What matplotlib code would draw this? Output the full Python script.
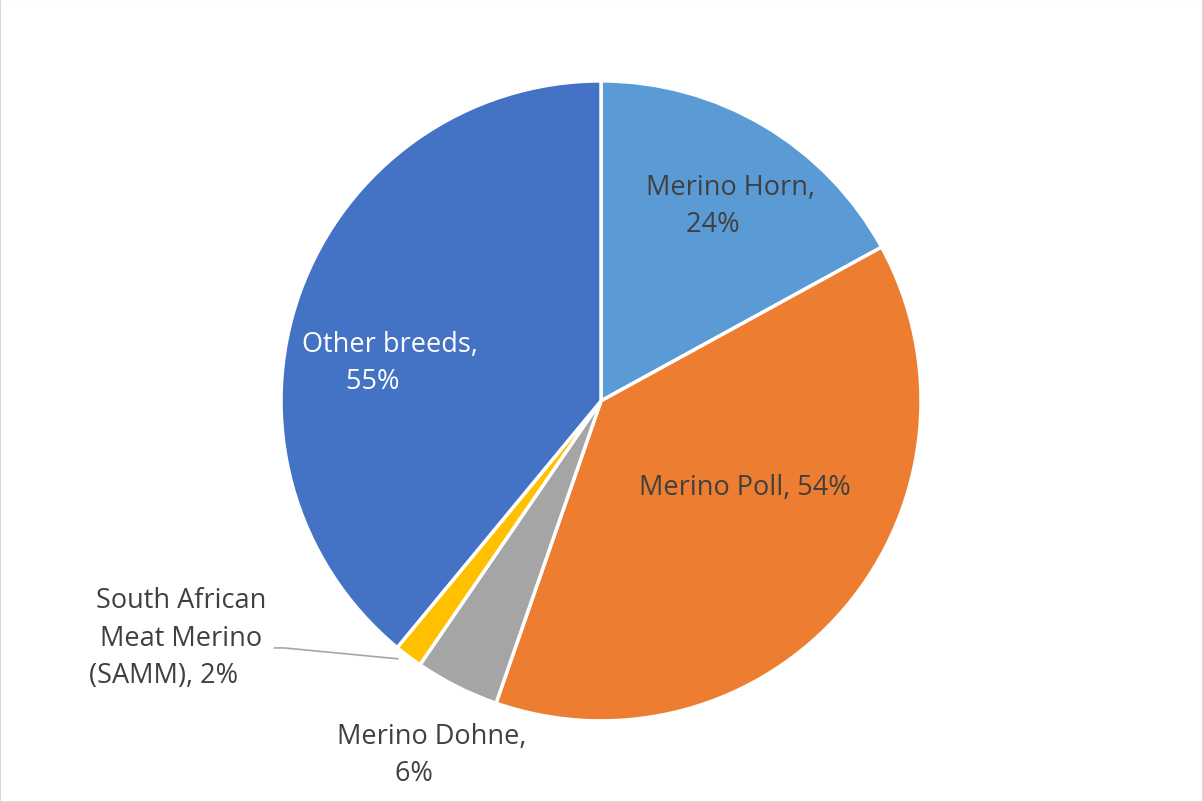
import matplotlib.pyplot as plt
from matplotlib.patches import Rectangle

plt.rcParams['font.family'] = ['Open Sans', 'DejaVu Sans']

breeds = ['Merino Horn', 'Merino Poll', 'Merino Dohne',
          'South African Meat Merino (SAMM)', 'Other breeds']
shares = [24, 54, 6, 2, 55]
# trailing spaces nudge the last line of each label to the left
pad = '     '
label_text = ['Merino Horn,\n24%' + pad, 'Merino Poll, 54%', 'Merino Dohne,\n6%' + pad,
              'South African\nMeat Merino\n(SAMM), 2%' + pad, 'Other breeds,\n55%' + pad]
colors = ['#5B9BD5', '#ED7D31', '#A5A5A5', '#FFC000', '#4472C4']
text_colors = ['#404040', '#404040', '#404040', '#404040', 'white']
# label centres, in units of the pie radius
label_xy = [(0.405, 0.61), (0.45, -0.27), (-0.53, -1.105), (-1.313, -0.74), (-0.66, 0.12)]

fig = plt.figure(figsize=(12.03, 8.03), dpi=100)
fig.patches.append(Rectangle((0, 0), 1, 1, transform=fig.transFigure,
                             fill=False, edgecolor='#D9D9D9', linewidth=1.5))
ax = fig.add_axes([0.2336, 0.101, 0.532, 0.797])

wedges, _ = ax.pie(shares, colors=colors, startangle=90, counterclock=False,
                   radius=1, wedgeprops=dict(edgecolor='white', linewidth=2.5))

for txt, (x, y), c in zip(label_text, label_xy, text_colors):
    ax.text(x, y, txt, ha='center', va='center', fontsize=19.5, color=c,
            linespacing=1.45)

# leader line for the small SAMM slice
ax.plot([-1.02, -0.99, -0.635], [-0.772, -0.772, -0.806], color='#A6A6A6', lw=1.2,
        clip_on=False)

ax.set_xlim(-1, 1)
ax.set_ylim(-1, 1)
ax.set_aspect('equal')
ax.axis('off')

fig.savefig('out.png', dpi=100)
